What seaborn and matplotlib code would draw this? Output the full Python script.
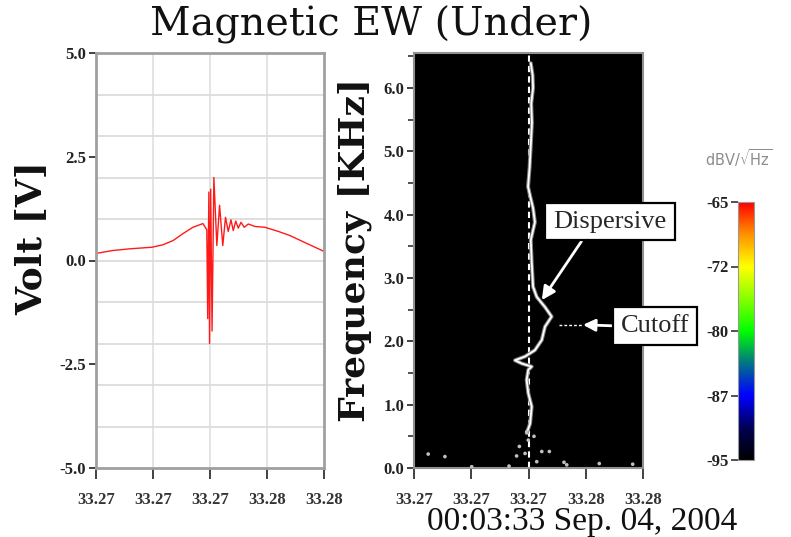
import numpy as np
import matplotlib
matplotlib.use("Agg")
import matplotlib.pyplot as plt
import seaborn as sns
from matplotlib.colors import LinearSegmentedColormap
import matplotlib.patheffects as pe

# ---------------- data ----------------
time_tick_ms = [0.0, 2.5, 5.0, 7.5, 10.0]          # ms after 33.270 s
time_tick_labels = ["33.27", "33.27", "33.27", "33.28", "33.28"]

wave_ms = [0.00, 0.73, 1.45, 2.46, 2.94, 3.38, 3.82, 4.25, 4.69, 4.86,
           4.90, 4.95, 4.98, 5.03, 5.09, 5.17, 5.30, 5.42, 5.56, 5.68,
           5.80, 5.92, 6.02, 6.13, 6.24, 6.36, 6.50, 6.68, 6.97, 7.41,
           8.00, 8.51, 9.25, 10.00]
wave_volt = [0.17, 0.24, 0.28, 0.32, 0.38, 0.48, 0.65, 0.80, 0.89, 0.74,
             -1.40, 1.65, -2.00, 1.72, -1.70, 2.00, 0.36, 1.33, 0.36, 1.04,
             0.70, 0.98, 0.72, 0.95, 0.78, 0.92, 0.80, 0.88, 0.82, 0.80,
             0.70, 0.60, 0.41, 0.22]

volt_ticks = [-5.0, -2.5, 0.0, 2.5, 5.0]
volt_tick_labels = ["-5.0", "-2.5", "0.0", "2.5", "5.0"]
volt_grid = [-4, -3, -2, -1, 0, 1, 2, 3, 4]

curve_khz = [6.39, 6.20, 6.00, 5.75, 5.45, 5.10, 4.75, 4.44, 4.25, 4.10,
             3.88, 3.60, 3.25, 2.86, 2.70, 2.54, 2.39, 2.23, 2.02, 1.86,
             1.76, 1.70, 1.65, 1.60, 1.55, 1.39, 1.18, 0.97, 0.70, 0.55]
curve_ms = [5.10, 5.18, 5.20, 5.12, 5.15, 5.10, 5.05, 4.98, 5.10, 5.20,
            5.28, 5.10, 5.14, 5.20, 5.36, 5.72, 6.01, 5.72, 5.58, 5.28,
            4.85, 4.41, 4.70, 5.14, 4.99, 4.92, 4.99, 5.14, 5.07, 4.92]

dots_ms = [0.62, 1.35, 2.52, 4.15, 4.48, 4.60, 4.85, 4.99, 4.92, 5.24,
           5.36, 5.58, 5.91, 6.55, 6.67, 8.09, 9.55]
dots_khz = [0.22, 0.18, 0.02, 0.03, 0.19, 0.34, 0.23, 0.44, 0.57, 0.50,
            0.10, 0.26, 0.26, 0.09, 0.05, 0.07, 0.06]

freq_ticks = [0.0, 1.0, 2.0, 3.0, 4.0, 5.0, 6.0]
freq_tick_labels = ["0.0", "1.0", "2.0", "3.0", "4.0", "5.0", "6.0"]
freq_minor = [0.5, 1.5, 2.5, 3.5, 4.5, 5.5, 6.5]
freq_max = 6.55

spec_floor_db = -95.0
cbar_ticks = [-95.0, -87.5, -80.0, -72.5, -65.0]
cbar_tick_labels = ["-95", "-87", "-80", "-72", "-65"]

burst_ms = 5.0
dispersive_xy = (5.58, 2.65)
dispersive_text_xy = (8.56, 3.89)
cutoff_khz = 2.26
cutoff_tip_ms = 7.38
cutoff_guide_ms = (6.33, 7.38)
cutoff_text_xy = (10.52, 2.24)

# ---------------- style ----------------
sns.set_style("white")
plt.rcParams["font.family"] = ["Liberation Serif", "DejaVu Serif"]

W, H = 791, 537
fig = plt.figure(figsize=(W / 100, H / 100), dpi=100)

def fx(px):
    return px / W

def fy(py):
    return 1 - py / H

ax1 = fig.add_axes([fx(96), fy(468), 228 / W, 415 / H])
ax2 = fig.add_axes([fx(414), fy(468), 229 / W, 415 / H])
cax = fig.add_axes([fx(738), fy(460), 16 / W, 258 / H])

tick_font = dict(family="Liberation Serif", weight="bold", size=12)
spine_col = "#a0a0a0"

# ---------------- left: waveform ----------------
ax1.set_xlim(0, 10)
ax1.set_ylim(-5, 5)
for x in time_tick_ms[1:-1]:
    ax1.axvline(x, color="#dcdcdc", lw=1.1, zorder=0)
for y in volt_grid:
    ax1.axhline(y, color="#dcdcdc", lw=1.3, zorder=0)
sns.lineplot(x=wave_ms, y=wave_volt, ax=ax1, sort=False, estimator=None,
             color="#ff1a1a", lw=1.0)
ax1.set_xticks(time_tick_ms)
ax1.set_xticklabels(time_tick_labels, **tick_font, color="#333333")
ax1.set_yticks(volt_ticks)
ax1.set_yticklabels(volt_tick_labels, **tick_font, color="#222222")
ax1.tick_params(axis="x", direction="out", length=8, width=1.3, color="#333333", pad=9, bottom=True)
ax1.tick_params(axis="y", direction="out", length=5, width=1.3, color="#333333", pad=2, left=True)
for s in ax1.spines.values():
    s.set_color(spine_col)
    s.set_linewidth(2.0)

# ---------------- right: spectrogram ----------------
cmap = LinearSegmentedColormap.from_list(
    "wave",
    [(0.0, "#000000"), (0.12, "#000050"), (0.25, "#0000ff"), (0.38, "#007a80"),
     (0.5, "#00ff00"), (0.62, "#80ff00"), (0.75, "#ffff00"), (0.88, "#ff8c00"),
     (1.0, "#ff0000")])
t_edges = np.linspace(0, 10, 11)
f_edges = np.linspace(0, freq_max, 11)
spec = np.full((10, 10), spec_floor_db)
mesh = ax2.pcolormesh(t_edges, f_edges, spec, cmap=cmap, vmin=-95, vmax=-65,
                      shading="flat", zorder=0)
ax2.set_xlim(0, 10)
ax2.set_ylim(0, freq_max)
ax2.axvline(burst_ms, color="white", lw=1.5, dashes=(3, 2), zorder=2)
sns.lineplot(x=curve_ms, y=curve_khz, ax=ax2, sort=False, estimator=None,
             color="white", lw=1.3, zorder=3,
             path_effects=[pe.Stroke(linewidth=2.8, foreground="#808080"), pe.Normal()])
sns.scatterplot(x=dots_ms, y=dots_khz, ax=ax2, color="#c0c0c0", s=7,
                edgecolor="none", zorder=3)
ax2.set_xticks(time_tick_ms)
ax2.set_xticklabels(time_tick_labels, **tick_font, color="#333333")
ax2.set_yticks(freq_ticks)
ax2.set_yticklabels(freq_tick_labels, **tick_font, color="#222222")
ax2.set_yticks(freq_minor, minor=True)
ax2.tick_params(axis="x", direction="out", length=8, width=1.3, color="#333333", pad=9, bottom=True)
ax2.tick_params(axis="y", which="major", direction="out", length=5, width=1.3, color="#333333", pad=2, left=True)
ax2.tick_params(axis="y", which="minor", direction="out", length=4, width=1.2, color="#333333", left=True)
for s in ax2.spines.values():
    s.set_color("#909090")
    s.set_linewidth(1.5)

# annotations
ann_font = dict(family="Liberation Serif", size=19)
ax2.annotate("Dispersive", xy=dispersive_xy, xytext=dispersive_text_xy,
             ha="center", va="center", **ann_font, annotation_clip=False, zorder=5,
             bbox=dict(boxstyle="square,pad=0.3", fc="white", ec="black", lw=1.6),
             arrowprops=dict(arrowstyle="-|>", color="white", lw=2.0, mutation_scale=20,
                             shrinkA=0, shrinkB=0, relpos=(0.3, 0.0)))
ax2.plot(list(cutoff_guide_ms), [cutoff_khz, cutoff_khz], color="white", lw=1.0,
         dashes=(2, 1.5), zorder=4)
ax2.annotate("Cutoff", xy=(cutoff_tip_ms, cutoff_khz), xytext=cutoff_text_xy,
             ha="center", va="center", **ann_font, annotation_clip=False, zorder=5,
             bbox=dict(boxstyle="square,pad=0.3", fc="white", ec="black", lw=1.6),
             arrowprops=dict(arrowstyle="-|>", color="white", lw=2.0, mutation_scale=18,
                             shrinkA=0, shrinkB=0, relpos=(0.0, 0.5)))

# ---------------- colorbar ----------------
cb = fig.colorbar(mesh, cax=cax, ticks=cbar_ticks)
cax.set_yticklabels(cbar_tick_labels, **tick_font, color="#222222")
cax.yaxis.set_ticks_position("left")
cax.yaxis.set_label_position("left")
cax.tick_params(direction="out", length=5, width=1.2, color="#333333", pad=2)
cb.outline.set_edgecolor("#999999")
cb.outline.set_linewidth(0.8)
fig.text(fx(739), fy(158), r"dBV/$\sqrt{\mathrm{Hz}}$", ha="center", va="center",
         color="#8c8c8c", family="DejaVu Sans", size=10.5)

# ---------------- text ----------------
fig.text(fx(371), fy(36), "Magnetic EW (Under)", ha="center", va="baseline",
         family="DejaVu Serif", size=28.5, color="#111111")
fig.text(fx(31), fy(238), "Volt [V]", rotation=90, ha="center", va="center",
         family="DejaVu Serif", weight="bold", size=26, color="#111111")
fig.text(fx(355), fy(250), "Frequency [KHz]", rotation=90, ha="center", va="center",
         family="DejaVu Serif", weight="bold", size=26, color="#111111")
fig.text(fx(582), fy(530), "00:03:33 Sep. 04, 2004", ha="center", va="baseline",
         family="Liberation Serif", size=24, color="#111111")

fig.savefig("out.png", dpi=100)
